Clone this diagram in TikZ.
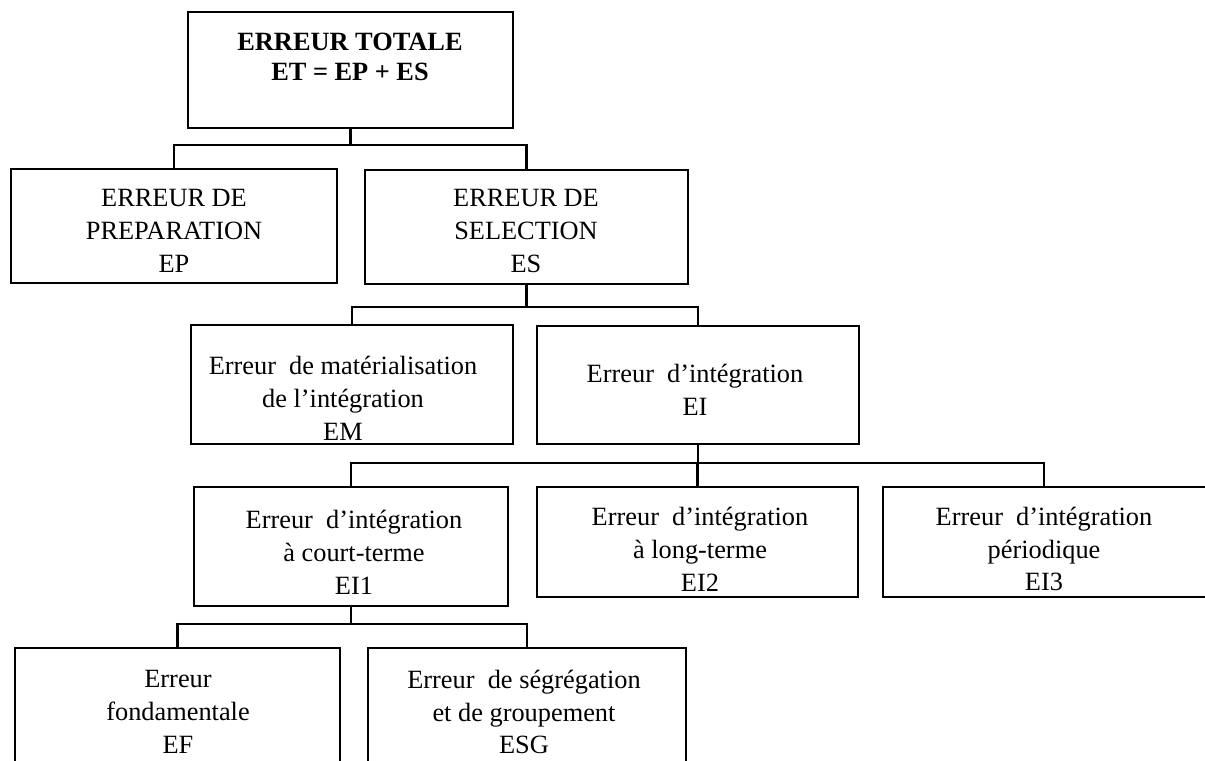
\documentclass[tikz,border=0pt]{standalone}
\usepackage{fontspec}
\setmainfont{Liberation Serif}
\usetikzlibrary{fit}

\begin{document}
\begin{tikzpicture}[x=0.016cm,y=-0.016cm,line cap=round,
	box/.style={draw,line width=1pt,inner sep=0pt},
	txt/.style={align=center,inner sep=0pt,font=\fontsize{12}{15}\selectfont},
	link/.style={line width=1pt}]
			\useasboundingbox (0,0) rectangle (1205,760);
			% niveau 0
			\node[box,fit={(188,12) (513,128)}] (et) {};
			\node[txt,font=\bfseries\fontsize{12}{14}\selectfont] (ettxt) at (350,57) {ERREUR TOTALE\\ET = EP + ES};
			% niveau 1
			\node[box,fit={(11,169) (337,283)}] (ep) {};
			\node[txt] (eptxt) at (174,231) {ERREUR DE\\PREPARATION\\EP};
			\node[box,fit={(365,170) (688,284)}] (es) {};
			\node[txt] (estxt) at (526,231) {ERREUR DE\\SELECTION\\ES};
			% niveau 2
			\node[box,fit={(191,325) (513,444)}] (em) {};
			\node[txt] (emtxt) at (343,398) {Erreur~ de matérialisation\\de l'intégration\\EM};
			\node[box,fit={(537,326) (859,444)}] (ei) {};
			\node[txt] (eitxt) at (695,390) {Erreur~ d'intégration\\EI};
			% niveau 3
			\node[box,fit={(194,487) (508,606)}] (eiun) {};
			\node[txt] (eiuntxt) at (354,552) {Erreur~ d'intégration\\à court-terme\\EI1};
			\node[box,fit={(537,487) (858,597)}] (eideux) {};
			\node[txt] (eideuxtxt) at (700,549) {Erreur~ d'intégration\\à long-terme\\EI2};
			\node[box,fit={(883,487) (1215,597)}] (eitrois) {};
			\node[txt] (eitroistxt) at (1044,549) {Erreur~ d'intégration\\périodique\\EI3};
			% niveau 4
			\node[box,fit={(15,648) (340,775)}] (ef) {};
			\node[txt] (eftxt) at (178,712) {Erreur\\fondamentale\\EF};
			\node[box,fit={(368,648) (686,775)}] (esg) {};
			\node[txt] (esgtxt) at (524,712) {Erreur~ de ségrégation\\et de groupement\\ESG};
			% liaisons
			\foreach \a/\b in {et/ep, et/es}
			\draw[link] (\a.south) -- ++(0,16) -| (\b.north);
			\foreach \a/\b in {es/em, es/ei}
			\draw[link] (\a.south) -- ++(0,22) -| (\b.north);
			\foreach \a/\b in {ei/eiun, ei/eideux}
			\draw[link] (\a.south) -- ++(0,18) -| (\b.north);
			\draw[link] (ei.south) -- ++(0,18) -| (eitrois.north -| eitroistxt);
			\foreach \a/\b in {eiun/ef, eiun/esg}
			\draw[link] (\a.south) -- ++(0,17) -| (\b.north);
		\end{tikzpicture}
\end{document}
